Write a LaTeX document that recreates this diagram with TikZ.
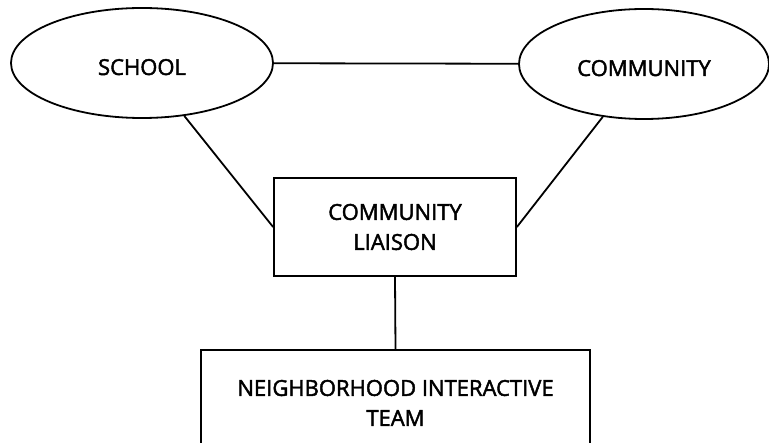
\documentclass[tikz,border=0pt]{standalone}
\usepackage{fontspec}
\setmainfont{Open Sans}[FakeBold=2]
\usetikzlibrary{shapes.geometric}
\begin{document}
\begin{tikzpicture}[x=1pt,y=-1pt, line width=1.8pt,
  every node/.style={font=\fontsize{22}{30}\selectfont},
  oval/.style={draw, ellipse, inner sep=0pt, text height=24pt, text depth=0pt},
  box/.style={draw, rectangle, align=center, inner sep=0pt}]
\useasboundingbox (0,0) rectangle (769,443);
\clip (0,0) rectangle (769,443);
\node[oval, minimum width=262pt, minimum height=110pt] (school) at (142,63) {SCHOOL};
\node[oval, minimum width=250pt, minimum height=110pt] (community) at (644,64) {COMMUNITY};
\node[box, minimum width=242pt, minimum height=98pt] (liaison) at (395,227) {COMMUNITY\\LIAISON};
\node[box, minimum width=389pt, minimum height=106pt, anchor=north] (team) at (395.5,349) {NEIGHBORHOOD INTERACTIVE\\TEAM};
\draw (school) -- (community);
\draw (school) -- (liaison.west);
\draw (community) -- (liaison.east);
\draw (liaison.south) -- (team.north);
\end{tikzpicture}
\end{document}
